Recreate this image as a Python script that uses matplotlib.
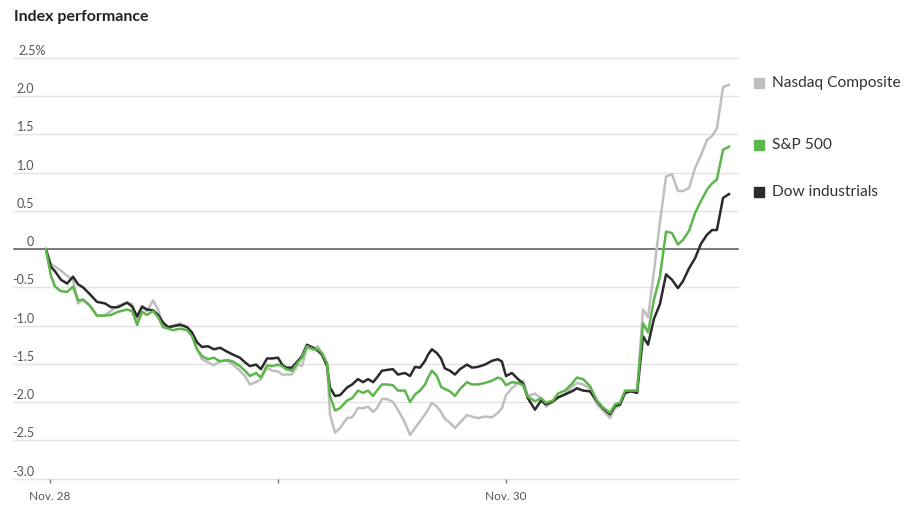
import matplotlib
matplotlib.use("Agg")
import matplotlib.pyplot as plt
import matplotlib.transforms as mtransforms

plt.rcParams["font.family"] = ["Lato", "DejaVu Sans"]

# time in trading days from the Nov. 28 tick, values in % change
t = [-0.018, 0.004, 0.022, 0.048, 0.075, 0.101, 0.123, 0.145, 0.175, 0.206,
     0.241, 0.268, 0.298, 0.338, 0.360, 0.382, 0.404, 0.425, 0.452, 0.474,
     0.496, 0.518, 0.539, 0.570, 0.601, 0.623, 0.645, 0.667, 0.693, 0.719,
     0.746, 0.776, 0.803, 0.833, 0.855, 0.877, 0.904, 0.925, 0.952, 0.974,
     1.000, 1.018, 1.035, 1.061, 1.088, 1.105, 1.127, 1.154, 1.175, 1.193,
     1.215, 1.228, 1.250, 1.272, 1.303, 1.325, 1.351, 1.373, 1.395, 1.417,
     1.434, 1.456, 1.478, 1.504, 1.526, 1.557, 1.579, 1.601, 1.623, 1.645,
     1.658, 1.675, 1.697, 1.715, 1.732, 1.754, 1.776, 1.798, 1.829, 1.851,
     1.877, 1.908, 1.939, 1.965, 1.982, 2.000, 2.026, 2.053, 2.075, 2.096,
     2.127, 2.154, 2.175, 2.206, 2.228, 2.259, 2.289, 2.311, 2.338, 2.368,
     2.399, 2.425, 2.456, 2.478, 2.500, 2.522, 2.548, 2.575, 2.601, 2.623,
     2.649, 2.675, 2.702, 2.728, 2.754, 2.776, 2.803, 2.829, 2.855, 2.882,
     2.904, 2.925, 2.952, 2.978]

dow = [0, -0.23, -0.29, -0.40, -0.45, -0.36, -0.46, -0.50, -0.59, -0.69,
       -0.71, -0.76, -0.76, -0.70, -0.75, -0.88, -0.75, -0.79, -0.80, -0.86,
       -0.96, -1.02, -1.01, -0.99, -1.02, -1.09, -1.22, -1.28, -1.27, -1.31,
       -1.29, -1.34, -1.38, -1.42, -1.48, -1.53, -1.51, -1.57, -1.43, -1.43,
       -1.42, -1.51, -1.55, -1.55, -1.46, -1.40, -1.25, -1.29, -1.33, -1.38,
       -1.53, -1.81, -1.92, -1.91, -1.81, -1.77, -1.70, -1.74, -1.70, -1.74,
       -1.68, -1.59, -1.58, -1.57, -1.64, -1.62, -1.66, -1.54, -1.55, -1.46,
       -1.38, -1.31, -1.36, -1.43, -1.56, -1.59, -1.64, -1.57, -1.51, -1.55,
       -1.54, -1.51, -1.46, -1.44, -1.47, -1.66, -1.62, -1.70, -1.76, -1.95,
       -2.10, -1.98, -2.03, -1.99, -1.94, -1.90, -1.86, -1.82, -1.85, -1.86,
       -1.99, -2.08, -2.16, -2.05, -2.03, -1.88, -1.86, -1.88, -1.14, -1.25,
       -0.91, -0.72, -0.33, -0.40, -0.51, -0.42, -0.25, -0.12, 0.07, 0.19,
       0.25, 0.25, 0.67, 0.72]

sp500 = [0, -0.35, -0.49, -0.55, -0.56, -0.49, -0.67, -0.66, -0.74, -0.87,
         -0.87, -0.86, -0.82, -0.79, -0.81, -0.99, -0.82, -0.86, -0.81, -0.89,
         -1.02, -1.04, -1.06, -1.04, -1.06, -1.14, -1.31, -1.40, -1.44, -1.42,
         -1.47, -1.45, -1.47, -1.53, -1.59, -1.66, -1.62, -1.68, -1.52, -1.53,
         -1.51, -1.53, -1.57, -1.59, -1.48, -1.42, -1.27, -1.31, -1.31, -1.36,
         -1.49, -1.92, -2.11, -2.08, -1.98, -1.95, -1.85, -1.88, -1.85, -1.92,
         -1.85, -1.77, -1.77, -1.78, -1.85, -1.85, -2.00, -1.90, -1.85, -1.77,
         -1.68, -1.59, -1.66, -1.80, -1.83, -1.86, -1.92, -1.83, -1.74, -1.77,
         -1.77, -1.75, -1.72, -1.68, -1.70, -1.78, -1.74, -1.75, -1.78, -1.93,
         -1.99, -1.95, -2.01, -1.98, -1.89, -1.85, -1.76, -1.68, -1.70, -1.79,
         -1.98, -2.07, -2.14, -2.03, -2.01, -1.85, -1.85, -1.85, -0.97, -1.09,
         -0.66, -0.36, 0.23, 0.21, 0.06, 0.12, 0.24, 0.47, 0.63, 0.78,
         0.86, 0.91, 1.30, 1.34]

nasdaq = [0, -0.19, -0.23, -0.28, -0.35, -0.40, -0.71, -0.66, -0.74, -0.87,
          -0.86, -0.81, -0.74, -0.70, -0.72, -0.92, -0.76, -0.81, -0.67, -0.79,
          -0.99, -1.02, -1.00, -0.97, -1.02, -1.12, -1.31, -1.44, -1.48, -1.52,
          -1.46, -1.46, -1.51, -1.59, -1.66, -1.77, -1.74, -1.70, -1.55, -1.59,
          -1.60, -1.64, -1.64, -1.64, -1.51, -1.53, -1.29, -1.31, -1.27, -1.38,
          -1.49, -2.16, -2.40, -2.34, -2.21, -2.20, -2.08, -2.08, -2.06, -2.13,
          -2.08, -1.96, -1.96, -2.00, -2.10, -2.27, -2.43, -2.34, -2.25, -2.16,
          -2.10, -2.01, -2.06, -2.13, -2.22, -2.27, -2.34, -2.27, -2.17, -2.19,
          -2.21, -2.19, -2.20, -2.14, -2.08, -1.91, -1.82, -1.75, -1.72, -1.92,
          -1.89, -1.95, -2.06, -2.00, -1.94, -1.90, -1.80, -1.75, -1.77, -1.82,
          -2.03, -2.11, -2.21, -2.08, -2.05, -1.88, -1.85, -1.85, -0.79, -0.89,
          -0.29, 0.35, 0.95, 0.98, 0.76, 0.76, 0.80, 1.06, 1.23, 1.43,
          1.48, 1.58, 2.12, 2.15]

y_ticks = [2.5, 2.0, 1.5, 1.0, 0.5, 0, -0.5, -1.0, -1.5, -2.0, -2.5, -3.0]
x_ticks = [0, 1, 2]
x_labels = ["Nov. 28", "", "Nov. 30"]

series = [("Nasdaq Composite", nasdaq, "#bfbfbf"),
          ("Dow industrials", dow, "#2b2b2b"),
          ("S&P 500", sp500, "#5cb64b")]

fig = plt.figure(figsize=(9.13, 5.11), dpi=100)
ax = fig.add_axes([14 / 913, 1 - 478.5 / 511, 724 / 913, (478.5 - 58) / 511])
ax.set_xlim(-36 / 228, 688 / 228)
ax.set_ylim(-3.0, 2.5)
for s in ax.spines.values():
    s.set_visible(False)

# gridlines + y labels sitting on top of them
ytrans = ax.get_yaxis_transform()
for i, v in enumerate(y_ticks):
    if v == 0:
        ax.axhline(v, color="#555555", lw=1.1, zorder=1, clip_on=False)
    else:
        ax.axhline(v, color="#e3e3e3", lw=1.0, zorder=0, clip_on=False)
    if i == 0:
        # top label carries the unit, left-aligned with the others' digits
        ax.annotate(f"{v:.1f}%", xy=(4 / 724, v), xycoords=ytrans, xytext=(0, 3),
                    textcoords="offset pixels", ha="left", va="baseline",
                    fontsize=9, color="#555555")
        continue
    lab = "0" if v == 0 else f"{v:.1f}"
    ax.annotate(lab, xy=(20 / 724, v), xycoords=ytrans, xytext=(0, 3),
                textcoords="offset pixels", ha="right", va="baseline",
                fontsize=9, color="#555555")
ax.set_yticks([])

for name, vals, col in series:
    ax.plot(t, vals, color=col, lw=1.8, zorder=3, solid_joinstyle="round")
    # legend entry next to the line end
    ax.plot([745 / 724], [vals[-1]], marker="s", ms=7, color=col,
            transform=ytrans + mtransforms.ScaledTranslation(0, 2 / 100, fig.dpi_scale_trans),
            clip_on=False)
    ax.annotate(name, xy=(758 / 724, vals[-1]), xycoords=ytrans, xytext=(0, 2),
                textcoords="offset pixels", ha="left", va="center",
                fontsize=11.2, color="#333333")

ax.set_xticks(x_ticks)
ax.set_xticklabels(x_labels)
ax.tick_params(axis="x", length=3, width=1, color="#777777", labelcolor="#555555",
               labelsize=8.5, pad=6)

fig.text(14 / 913, 1 - 17 / 511, "Index performance", fontsize=11.5,
         fontweight="bold", color="#222222", va="center", ha="left")

fig.savefig("out.png", dpi=100, facecolor="white")
